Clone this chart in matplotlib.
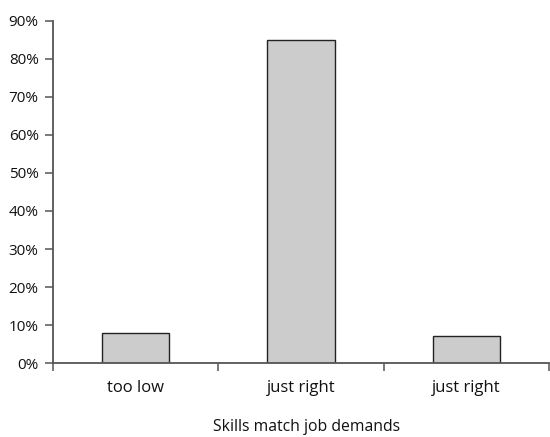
import matplotlib
matplotlib.use("Agg")
import matplotlib.pyplot as plt
from matplotlib.ticker import FixedLocator, PercentFormatter

categories = ["too low", "just right", "just right"]
values = [8.0, 84.9, 7.25]
yticks = [0, 10, 20, 30, 40, 50, 60, 70, 80, 90]
xlabel = "Skills match job demands"

plt.rcParams['font.family'] = ['Open Sans', 'DejaVu Sans']

fig = plt.figure(figsize=(5.5, 4.37), dpi=100)
ax = fig.add_axes([0.0955, 0.1686, 0.9035, 0.953 - 0.1686])

pos = [i + 0.5 for i in range(len(categories))]
ax.bar(pos, values, width=0.405, color="#cccccc", edgecolor="#222222", linewidth=1.0, zorder=2)

ax.set_xlim(0, len(categories))
ax.set_ylim(0, 90)
ax.set_yticks(yticks)
ax.yaxis.set_major_formatter(PercentFormatter(decimals=0))

ax.xaxis.set_major_locator(FixedLocator(list(range(len(categories) + 1))))
ax.xaxis.set_minor_locator(FixedLocator(pos))
ax.set_xticklabels([], minor=False)
ax.set_xticklabels(categories, minor=True)
ax.tick_params(axis="x", which="minor", length=0, pad=12, labelsize=12, labelcolor="#111111")
ax.tick_params(axis="x", which="major", length=6, width=1.1, color="#555555", direction="out")
ax.tick_params(axis="y", length=6, width=1.1, color="#555555", direction="out", labelsize=11, pad=4,
               labelcolor="#111111")

for s in ["top", "right"]:
    ax.spines[s].set_visible(False)
for s in ["left", "bottom"]:
    ax.spines[s].set_color("#555555")
    ax.spines[s].set_linewidth(1.3)

fig.text(0.0955 + 0.9035 / 2 + 0.01, 0.013, xlabel, fontsize=11.3, ha="center", va="baseline",
         color="#111111")

fig.savefig("out.png", dpi=100)
